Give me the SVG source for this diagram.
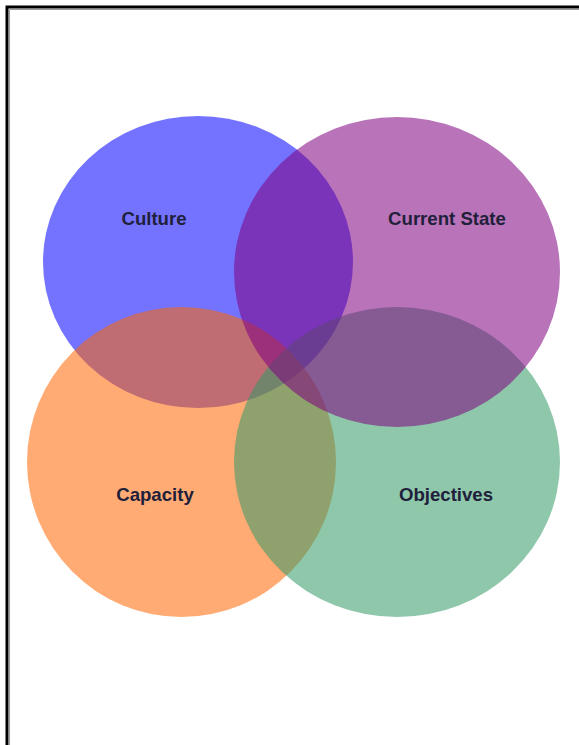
<svg xmlns="http://www.w3.org/2000/svg" width="579" height="745" viewBox="0 0 579 745">
  <style>
    .set { fill-opacity: 0.55; stroke: none; }
    .label { font-family: "Liberation Sans", Arial, sans-serif; font-weight: bold; font-size: 18.6px; fill: #20203a; text-anchor: middle; }
  </style>
  <rect width="579" height="745" fill="#ffffff"/>
  <g id="frame">
    <path d="M7,745 V7 H579" fill="none" stroke="#000000" stroke-width="3"/>
    <path d="M9.5,745 V9.5 H579" fill="none" stroke="#9a9a9a" stroke-width="1"/>
  </g>
  <g id="culture">
    <ellipse class="set" cx="198" cy="262" rx="155" ry="146" fill="#0000ff"/>
  </g>
  <g id="capacity">
    <ellipse class="set" cx="181.5" cy="462" rx="154.5" ry="155" fill="#ff6600"/>
  </g>
  <g id="objectives">
    <ellipse class="set" cx="397" cy="462" rx="163" ry="155" fill="#339966"/>
  </g>
  <g id="current-state">
    <ellipse class="set" cx="397" cy="272" rx="163" ry="155" fill="#800080"/>
  </g>
  <g id="labels">
    <text class="label" x="154" y="225">Culture</text>
    <text class="label" x="447" y="225">Current State</text>
    <text class="label" x="155" y="501">Capacity</text>
    <text class="label" x="446" y="501">Objectives</text>
  </g>
</svg>
